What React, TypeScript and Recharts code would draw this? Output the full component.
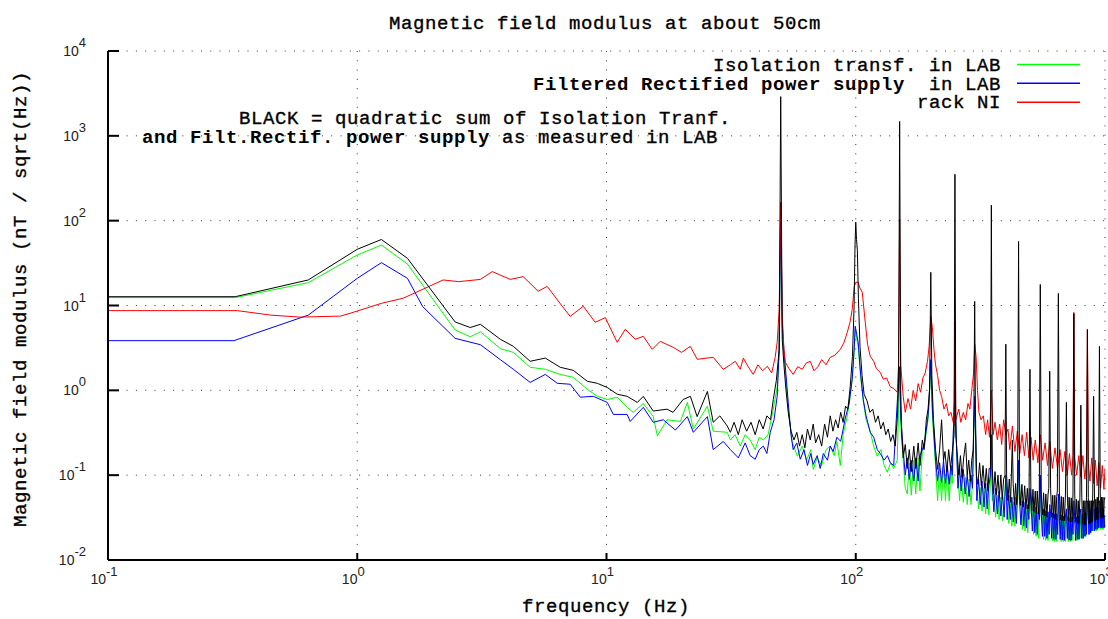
import { LineChart, Line, XAxis, YAxis, CartesianGrid } from 'recharts';

const xTicks = [0.1, 1, 10, 100, 1000];
const yTicks = [0.01, 0.1, 1, 10, 100, 1000, 10000];

// [frequency (Hz), field (nT/sqrt(Hz))]
const isolation = [
  [0.1, 12.4], [0.324, 12.4], [0.636, 18.6], [1.0, 39.4], [1.25, 51.6], [1.59, 30.8], [2.47, 5.14], [2.84, 4.28],
  [3.12, 4.9], [3.75, 3.1], [4.23, 2.8], [4.94, 1.87], [5.68, 1.77], [6.52, 1.54], [7.36, 1.42], [8.37, 1.03],
  [9.18, 0.85], [10.07, 0.78], [11.04, 0.83], [12.1, 0.63], [12.8, 0.55], [14.05, 0.7], [15.4, 0.49], [16.0, 0.29],
  [17.5, 0.45], [19.8, 0.43], [21.1, 0.72], [22.3, 0.35], [25.4, 0.65], [26.8, 0.33], [30.5, 0.32], [31.4, 0.26],
  [32.8, 0.3], [34.4, 0.22], [36, 0.3], [37.7, 0.26], [39.5, 0.2], [41, 0.28], [42.6, 0.26], [44.5, 0.3],
  [46.7, 0.6], [48.4, 1.1], [49.3, 3], [50, 130], [50.7, 5], [51.5, 2.6], [53.6, 0.6], [55.5, 0.25],
  [58.3, 0.167], [61, 0.22], [63.5, 0.15], [66, 0.2], [67.5, 0.117], [70, 0.16], [73, 0.13], [76, 0.2],
  [79, 0.22], [82, 0.17], [84, 0.25], [86.7, 0.13], [89, 0.3], [92.5, 0.5], [94.5, 0.75], [96.8, 1.4],
  [98.5, 2.8], [99.5, 5.2], [101, 4.0], [102.3, 3.3], [104.5, 1.5], [107.2, 0.75], [110, 0.45], [114.3, 0.33],
  [118, 0.22], [122, 0.167], [126, 0.2], [130, 0.13], [133.8, 0.108], [138, 0.14], [142, 0.12], [146.7, 0.15],
  [148.5, 0.6], [150, 1.6], [151.5, 0.4], [155, 0.15], [158, 0.07], [161, 0.06], [164, 0.14], [167, 0.058],
  [171, 0.15], [174, 0.06], [178, 0.16], [181, 0.065], [185, 0.19], [189, 0.22], [192, 0.33], [195, 0.45],
  [197, 0.7], [200, 2.0], [203, 0.5], [206, 0.25], [209, 0.13], [213, 0.05], [217, 0.12], [221, 0.05],
  [225, 0.13], [229, 0.05], [233, 0.12], [237, 0.05], [241, 0.11], [244, 0.08], [246, 0.28], [250, 0.9],
  [254, 0.18], [257, 0.1], [261, 0.05], [265, 0.1], [270, 0.048], [275, 0.095], [280, 0.045], [285, 0.09],
  [290, 0.045], [294, 0.08], [297, 0.25], [300, 0.8], [303, 0.22], [306, 0.075], [311, 0.04], [316, 0.072],
  [321, 0.038], [327, 0.07], [332, 0.035], [337, 0.065], [342, 0.034], [347, 0.08], [350, 0.25], [353, 0.05],
  [358, 0.06], [364, 0.032], [370, 0.058], [376, 0.03], [382, 0.055], [388, 0.029], [394, 0.05], [400, 0.09],
  [405, 0.05], [411, 0.027], [417, 0.05], [423, 0.025], [429, 0.048], [435, 0.025], [441, 0.046], [446, 0.05],
  [450, 0.12], [454, 0.045], [460, 0.045], [466, 0.023], [472, 0.042], [478, 0.022], [484, 0.04], [490, 0.021],
  [495, 0.04], [500, 0.06], [505, 0.035], [511, 0.038], [517, 0.02], [523, 0.037], [529, 0.019], [535, 0.036],
  [541, 0.018], [546, 0.035], [550, 0.09], [555, 0.032], [561, 0.034], [567, 0.0175], [573, 0.034], [579, 0.017],
  [585, 0.033], [591, 0.017], [597, 0.033], [600, 0.04], [605, 0.03], [611, 0.032], [617, 0.0168], [623, 0.032],
  [629, 0.0165], [635, 0.031], [641, 0.0165], [646, 0.035], [650, 0.055], [655, 0.028], [661, 0.031], [667, 0.0165],
  [674, 0.03], [680, 0.0165], [687, 0.03], [694, 0.0165], [700, 0.035], [706, 0.029], [712, 0.0165], [718, 0.029],
  [725, 0.0165], [731, 0.029], [738, 0.017], [744, 0.03], [750, 0.045], [756, 0.027], [762, 0.03], [768, 0.017],
  [775, 0.03], [781, 0.0175], [787, 0.031], [793, 0.018], [800, 0.035], [806, 0.03], [812, 0.018], [818, 0.031],
  [825, 0.019], [831, 0.032], [837, 0.019], [843, 0.033], [850, 0.045], [856, 0.03], [862, 0.034], [868, 0.02],
  [874, 0.035], [880, 0.021], [887, 0.036], [893, 0.022], [900, 0.04], [906, 0.03], [912, 0.022], [918, 0.038],
  [925, 0.022], [931, 0.038], [937, 0.023], [943, 0.038], [950, 0.04], [956, 0.032], [962, 0.023], [968, 0.036],
  [975, 0.023], [981, 0.036], [987, 0.023], [993, 0.034], [1000, 0.032],
];

const filtered = [
  [0.1, 3.85], [0.32, 3.85], [0.636, 7.7], [1.0, 20.9], [1.25, 32], [1.59, 20.9], [1.83, 9.7], [2.47, 4.1],
  [3.12, 3.45], [3.75, 2.3], [4.23, 1.77], [4.94, 1.24], [5.68, 1.54], [6.35, 1.21], [7.15, 1.18], [7.85, 0.83],
  [8.85, 0.85], [10.07, 0.72], [10.65, 0.52], [12.1, 0.52], [12.45, 0.43], [14.05, 0.63], [15.4, 0.42], [16.9, 0.45],
  [18.9, 0.34], [21.1, 0.49], [22.3, 0.32], [25.4, 0.49], [26.8, 0.2], [29.4, 0.25], [31.4, 0.2], [33.8, 0.16],
  [36, 0.24], [37.7, 0.17], [39.5, 0.154], [41, 0.2], [42.6, 0.22], [44, 0.18], [45.4, 0.32], [47, 0.45],
  [48.4, 0.85], [49.3, 3], [50, 160], [50.7, 6], [51.5, 3.0], [53.6, 0.72], [55, 0.3], [56.1, 0.2],
  [58, 0.24], [59.9, 0.154], [62, 0.2], [64, 0.13], [66, 0.18], [67.5, 0.134], [70, 0.17], [72, 0.12],
  [74.1, 0.18], [77, 0.15], [79, 0.22], [81.2, 0.19], [84, 0.28], [87, 0.25], [90.8, 0.47], [94, 0.7],
  [96.8, 1.35], [98.5, 3.0], [99.5, 5.7], [101, 4.5], [102.3, 3.68], [104.5, 1.6], [107.2, 0.78], [110, 0.5],
  [114.3, 0.32], [118, 0.28], [122, 0.2], [125.4, 0.18], [130, 0.15], [134, 0.17], [137.5, 0.14], [142, 0.13],
  [146.7, 0.72], [148.5, 1.2], [150, 1.9], [151.5, 0.5], [155, 0.2], [158, 0.1], [161, 0.16], [164, 0.089],
  [167, 0.15], [171, 0.085], [174, 0.16], [178, 0.085], [181, 0.17], [185, 0.2], [189, 0.25], [192, 0.35],
  [195, 0.5], [197, 0.78], [200, 2.3], [203, 0.6], [206, 0.3], [209, 0.15], [213, 0.085], [217, 0.14],
  [221, 0.082], [225, 0.15], [229, 0.08], [233, 0.13], [237, 0.078], [241, 0.13], [244, 0.1], [246, 0.3],
  [250, 1.0], [254, 0.2], [257, 0.07], [261, 0.12], [265, 0.065], [270, 0.117], [275, 0.06], [280, 0.1],
  [285, 0.056], [290, 0.1], [294, 0.07], [297, 0.3], [300, 0.85], [303, 0.25], [306, 0.05], [311, 0.09],
  [316, 0.045], [321, 0.085], [327, 0.042], [332, 0.08], [337, 0.04], [342, 0.075], [347, 0.1], [350, 0.3],
  [353, 0.08], [358, 0.037], [364, 0.07], [370, 0.035], [376, 0.065], [382, 0.033], [388, 0.06], [394, 0.032],
  [400, 0.1], [405, 0.03], [411, 0.058], [417, 0.03], [423, 0.055], [429, 0.028], [435, 0.055], [441, 0.027],
  [446, 0.06], [450, 0.15], [454, 0.05], [460, 0.026], [466, 0.05], [472, 0.025], [478, 0.048], [484, 0.024],
  [490, 0.045], [495, 0.03], [500, 0.07], [505, 0.045], [511, 0.022], [517, 0.044], [523, 0.021], [529, 0.042],
  [535, 0.02], [541, 0.04], [546, 0.03], [550, 0.1], [555, 0.035], [561, 0.019], [567, 0.04], [573, 0.019],
  [579, 0.038], [585, 0.018], [591, 0.037], [597, 0.02], [600, 0.045], [605, 0.035], [611, 0.018], [617, 0.036],
  [623, 0.0175], [629, 0.035], [635, 0.0175], [641, 0.035], [646, 0.02], [650, 0.06], [655, 0.034], [661, 0.0175],
  [667, 0.034], [674, 0.0172], [680, 0.033], [687, 0.017], [694, 0.033], [700, 0.04], [706, 0.018], [712, 0.033],
  [718, 0.0172], [725, 0.032], [731, 0.017], [738, 0.032], [744, 0.02], [750, 0.05], [756, 0.03], [762, 0.017],
  [768, 0.032], [775, 0.0175], [781, 0.033], [787, 0.0175], [793, 0.033], [800, 0.04], [806, 0.018], [812, 0.034],
  [818, 0.018], [825, 0.035], [831, 0.019], [837, 0.036], [843, 0.02], [850, 0.05], [856, 0.036], [862, 0.02],
  [868, 0.038], [874, 0.021], [880, 0.04], [887, 0.022], [893, 0.04], [900, 0.05], [906, 0.022], [912, 0.04],
  [918, 0.023], [925, 0.042], [931, 0.023], [937, 0.042], [943, 0.024], [950, 0.05], [956, 0.024], [962, 0.042],
  [968, 0.024], [975, 0.04], [981, 0.024], [987, 0.04], [993, 0.024], [1000, 0.034],
];

const rackNI = [
  [0.1, 8.7], [0.33, 8.7], [0.45, 7.7], [0.59, 7.3], [0.855, 7.5], [0.937, 8.1], [1.25, 10.6], [1.53, 12.2],
  [2.21, 20], [2.55, 19.1], [3.12, 20.3], [3.48, 25.1], [4.11, 20.3], [4.63, 21.9], [5.32, 14.7], [5.78, 16.8],
  [6.64, 9.8], [7.15, 7.45], [8.07, 9.8], [9.01, 6.33], [9.89, 7.2], [11.04, 3.68], [11.89, 5.24], [13.04, 4.0],
  [14.05, 4.33], [15.26, 3.04], [16.43, 3.78], [18.53, 3.21], [20, 2.8], [21.68, 3.3], [23.13, 2.32], [26.81, 2.45],
  [29.4, 1.77], [31.4, 2.0], [32.86, 2.2], [34.41, 1.77], [35.4, 2.4], [37, 1.9], [38.8, 1.54], [40.5, 2.0],
  [42.3, 1.7], [44.2, 1.92], [46, 1.6], [47.5, 2.45], [48.4, 3.7], [49.3, 9], [50, 165], [50.7, 8],
  [51.5, 3], [52.2, 2.14], [54, 1.8], [56.1, 1.54], [58.5, 1.9], [61, 1.77], [63.3, 2.1], [65.7, 2.2],
  [68, 1.7], [70.7, 1.92], [73, 2.3], [76, 2.0], [79, 2.45], [82.5, 2.6], [86.7, 3.04], [89.5, 3.6],
  [92.5, 4.83], [95, 6.5], [96.8, 9], [98.6, 16.8], [100, 18.8], [102.3, 18.8], [104, 16], [106.2, 14.3],
  [109.2, 6.3], [111.5, 3.5], [114.3, 2.52], [118, 2.2], [121, 1.8], [125.4, 1.63], [129, 1.35], [133, 1.4],
  [137.5, 1.1], [142, 1.05], [146.7, 0.95], [148.5, 2], [150, 104], [151.5, 2], [155, 0.85], [158, 0.55],
  [162, 0.8], [166, 0.6], [170, 1.0], [174, 0.75], [178, 1.2], [182, 0.95], [186, 1.4], [190, 1.6],
  [194, 2.2], [197, 3.3], [200, 7.45], [203, 5.5], [206, 3.0], [209, 2.0], [213, 1.5], [217, 1.0],
  [221, 0.85], [226, 0.6], [231, 0.7], [236, 0.5], [241, 0.55], [248, 0.38], [250, 6.5], [252, 0.45],
  [259, 0.6], [264, 0.42], [270, 0.55], [276, 0.45], [282, 0.7], [287, 0.6], [292, 1.0], [297, 1.6],
  [300, 3.5], [304, 2.5], [308, 1.0], [312, 0.55], [318, 0.45], [325, 0.5], [332, 0.3], [338, 0.45],
  [344, 0.28], [350, 1.0], [356, 0.3], [362, 0.42], [370, 0.26], [378, 0.4], [385, 0.23], [392, 0.45],
  [400, 0.3], [408, 0.35], [415, 0.2], [425, 0.38], [435, 0.19], [445, 0.33], [455, 0.18], [465, 0.3],
  [475, 0.17], [485, 0.32], [495, 0.16], [505, 0.28], [515, 0.15], [525, 0.26], [538, 0.14], [550, 0.3],
  [562, 0.15], [575, 0.24], [588, 0.13], [600, 0.25], [615, 0.12], [630, 0.21], [645, 0.12], [660, 0.2],
  [675, 0.11], [690, 0.19], [705, 0.1], [720, 0.18], [735, 0.1], [744, 0.17], [750, 8.3], [756, 0.16],
  [770, 0.1], [785, 0.17], [800, 0.095], [815, 0.17], [830, 0.09], [843, 0.15], [850, 5.2], [857, 0.14],
  [870, 0.085], [885, 0.16], [900, 0.08], [915, 0.15], [930, 0.075], [945, 0.14], [960, 0.07], [975, 0.13],
  [990, 0.068], [1000, 0.12],
];

const quadSum = [
  [0.1, 12.7], [0.324, 12.7], [0.636, 20], [1.0, 46], [1.25, 60], [1.59, 36], [2.47, 6.4], [2.84, 5.5],
  [3.12, 6.0], [3.75, 4.0], [4.23, 3.3], [4.94, 2.2], [5.68, 2.4], [6.52, 1.87], [7.36, 1.72], [8.37, 1.28],
  [9.18, 1.21], [10.07, 1.08], [11.04, 0.9], [12.1, 0.85], [13.3, 0.72], [14.05, 0.85], [15.4, 0.57], [17.5, 0.6],
  [18.5, 0.55], [20.3, 0.78], [21.7, 0.85], [23.1, 0.49], [25.4, 0.97], [26.8, 0.42], [28.5, 0.5], [30.5, 0.38],
  [31.4, 0.32], [32.5, 0.42], [33.8, 0.3], [35, 0.45], [36.5, 0.33], [38, 0.42], [39.5, 0.3], [41, 0.45],
  [42.5, 0.35], [44, 0.5], [45.5, 0.45], [46.7, 0.78], [48, 1.3], [49.3, 3], [50, 2900], [50.7, 4],
  [51.5, 2], [52.5, 1.0], [53.6, 0.55], [55, 0.33], [56.5, 0.26], [58, 0.32], [59.5, 0.22], [61, 0.3],
  [62.5, 0.21], [64, 0.35], [65.7, 0.26], [67.5, 0.4], [69, 0.24], [71, 0.3], [73, 0.22], [75, 0.4],
  [77, 0.28], [79, 0.5], [81, 0.33], [83, 0.45], [85, 0.36], [87, 0.55], [89, 0.42], [91, 0.65],
  [93, 0.6], [95, 1.1], [97, 2.5], [98.5, 10], [99.3, 50], [100, 96], [100.7, 60], [101.5, 45],
  [102.5, 12], [104, 3.3], [106, 1.5], [108, 0.9], [111, 0.75], [114, 0.55], [117, 0.6], [120, 0.42],
  [123, 0.5], [126, 0.35], [129, 0.42], [132, 0.3], [135, 0.35], [138, 0.25], [141, 0.3], [144, 0.22],
  [147, 0.5], [148.5, 1.2], [150, 1480], [151.5, 1.0], [153, 0.3], [155, 0.16], [158, 0.23], [161, 0.12],
  [164, 0.2], [167, 0.11], [171, 0.22], [174, 0.12], [178, 0.24], [181, 0.13], [185, 0.26], [188, 0.2],
  [192, 0.455], [195, 0.6], [197.8, 1.03], [200, 24.6], [202, 1.5], [205, 0.45], [209, 0.2], [213, 0.117],
  [217, 0.2], [221, 0.45], [225, 0.15], [228, 0.19], [232, 0.11], [236, 0.2], [240, 0.12], [244, 0.19],
  [248, 0.3], [250, 352], [252, 0.3], [255, 0.19], [259, 0.1], [263, 0.17], [267, 0.094], [271, 0.16],
  [276, 0.24], [280, 0.1], [284, 0.15], [288, 0.085], [292, 0.15], [296, 0.2], [298, 0.6], [300, 11.2],
  [302, 0.6], [305, 0.1], [309, 0.078], [314, 0.14], [319, 0.075], [324, 0.13], [329, 0.07], [334, 0.12],
  [339, 0.065], [343, 0.12], [347, 0.12], [350, 152], [353, 0.12], [357, 0.06], [362, 0.11], [367, 0.059],
  [372, 0.1], [377, 0.055], [382, 0.1], [387, 0.052], [392, 0.09], [397, 0.1], [400, 3.5], [403, 0.1],
  [408, 0.05], [413, 0.09], [418, 0.048], [425, 0.26], [428, 0.08], [433, 0.045], [438, 0.08], [442, 0.045],
  [446, 0.08], [450, 57], [454, 0.08], [459, 0.044], [464, 0.078], [470, 0.042], [476, 0.075], [482, 0.04],
  [488, 0.07], [493, 0.04], [496, 0.07], [500, 1.77], [504, 0.07], [509, 0.038], [514, 0.068], [519, 0.0365],
  [525, 0.065], [530, 0.035], [535, 0.065], [540, 0.035], [545, 0.06], [550, 17.7], [555, 0.06], [561, 0.034],
  [567, 0.062], [573, 0.033], [579, 0.06], [585, 0.032], [591, 0.06], [595, 0.07], [600, 1.68], [605, 0.07],
  [611, 0.032], [617, 0.058], [623, 0.031], [629, 0.058], [635, 0.03], [640, 0.056], [644, 0.065], [650, 13.9],
  [656, 0.065], [662, 0.03], [668, 0.056], [674, 0.029], [680, 0.055], [687, 0.029], [694, 0.06], [700, 0.72],
  [706, 0.06], [712, 0.029], [718, 0.055], [725, 0.028], [732, 0.054], [738, 0.028], [744, 0.06], [750, 8],
  [756, 0.06], [762, 0.028], [768, 0.052], [775, 0.027], [781, 0.05], [787, 0.027], [793, 0.055], [800, 0.67],
  [807, 0.055], [813, 0.027], [819, 0.05], [825, 0.026], [831, 0.05], [837, 0.026], [843, 0.055], [850, 5.2],
  [857, 0.055], [863, 0.027], [869, 0.05], [875, 0.027], [881, 0.05], [887, 0.028], [893, 0.06], [900, 0.85],
  [907, 0.06], [913, 0.029], [919, 0.052], [925, 0.03], [931, 0.055], [937, 0.03], [943, 0.06], [950, 3.3],
  [957, 0.06], [963, 0.031], [969, 0.055], [975, 0.032], [981, 0.055], [987, 0.031], [993, 0.05], [1000, 0.055],
];

const seriesList = [
  { name: 'isolation', pts: isolation, color: '#00ff00' },
  { name: 'filtered', pts: filtered, color: '#0000ff' },
  { name: 'rack', pts: rackNI, color: '#ff0000' },
  { name: 'sum', pts: quadSum, color: '#000000' },
];

const toRows = (pts: number[][]) => pts.map(([f, v]) => ({ f, v }));

const MONO = '"Liberation Mono", "DejaVu Sans Mono", monospace';
const TICKFONT = '"Liberation Sans", Arial, sans-serif';

const expLabel = (v: number) => String(Math.round(Math.log10(v)));

const BottomTick = (props: any) => {
  const { x, payload } = props;
  return (
    <g>
      <line x1={x} y1={560} x2={x} y2={553} stroke="#000" strokeWidth={2} />
      <text x={x - 4} y={584} textAnchor="middle" fontFamily={TICKFONT} fontSize={14} fill="#222">
        10<tspan dy={-8} fontSize={13}>{expLabel(payload.value)}</tspan>
      </text>
    </g>
  );
};

const TopTick = (props: any) => (
  <line x1={props.x} y1={51} x2={props.x} y2={58} stroke="#000" strokeWidth={2} />
);

const LeftTick = (props: any) => {
  const { y, payload } = props;
  return (
    <g>
      <line x1={108} y1={y} x2={119} y2={y} stroke="#000" strokeWidth={2} />
      <text x={86} y={y + 5} textAnchor="end" fontFamily={TICKFONT} fontSize={14} fill="#222">
        10<tspan dy={-9} fontSize={13}>{expLabel(payload.value)}</tspan>
      </text>
    </g>
  );
};

const RightTick = (props: any) => (
  <line x1={1105} y1={props.y} x2={1094} y2={props.y} stroke="#000" strokeWidth={2} />
);

const frame = { stroke: '#000', strokeWidth: 2 };
const txt = { stroke: '#000', strokeWidth: 0.35 };

export default function App() {
  return (
    <div style={{ position: 'absolute', left: 0, top: 0, width: 1108, height: 619, background: '#fff' }}>
      <LineChart width={1108} height={619} margin={{ top: 51, right: 3, bottom: 0, left: 0 }}>
        <CartesianGrid stroke="#333" strokeDasharray="1 8.3" />
        <XAxis type="number" dataKey="f" scale="log" domain={[0.1, 1000]} ticks={xTicks} allowDataOverflow
          interval={0} height={59} tickSize={0} tickMargin={0} tickLine={false} axisLine={frame} tick={BottomTick} />
        <XAxis xAxisId="top" orientation="top" type="number" dataKey="f" scale="log" domain={[0.1, 1000]} ticks={xTicks}
          allowDataOverflow interval={0} height={0} tickSize={0} tickMargin={0} tickLine={false} axisLine={frame} tick={TopTick} />
        <YAxis type="number" scale="log" domain={[0.01, 10000]} ticks={yTicks} allowDataOverflow interval={0}
          width={108} tickSize={0} tickMargin={0} tickLine={false} axisLine={frame} tick={LeftTick} />
        <YAxis yAxisId="right" orientation="right" type="number" scale="log" domain={[0.01, 10000]} ticks={yTicks}
          allowDataOverflow interval={0} width={0} tickSize={0} tickMargin={0} tickLine={false} axisLine={frame} tick={RightTick} />
        {seriesList.map((s) => (
          <Line key={s.name} data={toRows(s.pts)} dataKey="v" stroke={s.color} strokeWidth={1}
            dot={false} isAnimationActive={false} />
        ))}
      </LineChart>
      <svg width={1108} height={619} style={{ position: 'absolute', left: 0, top: 0, pointerEvents: 'none' }}
        fontFamily={MONO} fontSize={19} letterSpacing={0.6} fill="#000">
        <text x={605} y={29} textAnchor="middle" {...txt}>Magnetic field modulus at about 50cm</text>

        <text x={1001} y={71} textAnchor="end" {...txt}>Isolation transf. in LAB</text>
        <text x={1001} y={89.5} textAnchor="end" xmlSpace="preserve">
          <tspan fontWeight="bold">Filtered Rectified power supply</tspan><tspan {...txt}>  in LAB</tspan>
        </text>
        <text x={1001} y={108} textAnchor="end" {...txt}>rack NI</text>
        <line x1={1017} x2={1080} y1={64.5} y2={64.5} stroke="#00ff00" strokeWidth={1.5} />
        <line x1={1017} x2={1080} y1={83.3} y2={83.3} stroke="#0000ff" strokeWidth={1.5} />
        <line x1={1017} x2={1080} y1={102.3} y2={102.3} stroke="#ff0000" strokeWidth={1.5} />

        <text x={239} y={124} {...txt}>BLACK = quadratic sum of Isolation Tranf.</text>
        <text x={142} y={142.5} xmlSpace="preserve">
          <tspan fontWeight="bold">and Filt.Rectif. power supply</tspan><tspan {...txt}> as measured in LAB</tspan>
        </text>

        <text transform="translate(26,299) rotate(-90)" textAnchor="middle" {...txt}>Magnetic field modulus (nT / sqrt(Hz))</text>
        <text x={606} y={612} textAnchor="middle" {...txt}>frequency (Hz)</text>
      </svg>
    </div>
  );
}
